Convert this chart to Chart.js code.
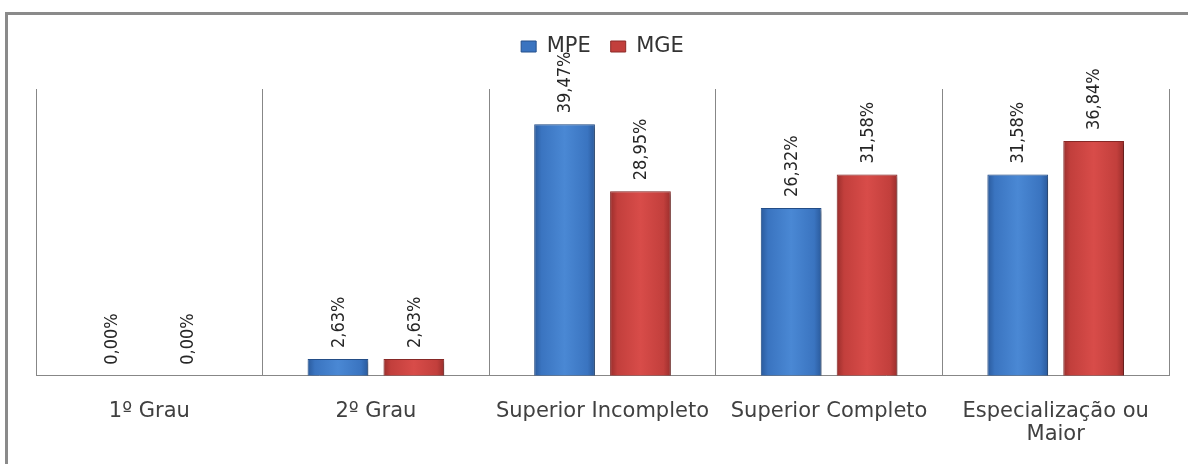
<!DOCTYPE html>
<html>
<head>
<meta charset="utf-8">
<script src="https://cdn.jsdelivr.net/npm/chart.js@4.4.1/dist/chart.umd.min.js"></script>
<style>
  html, body { margin: 0; padding: 0; background: #fff; overflow: hidden; }
  #wrap { position: relative; width: 1188px; height: 464px; }
  #frame {
    position: absolute; left: 5px; top: 12px; width: 1300px; height: 600px;
    border: 3px solid #8a8a8a; pointer-events: none;
  }
</style>
</head>
<body>
<div id="wrap">
  <canvas id="eduChart" width="1188" height="464"></canvas>
  <div id="frame"></div>
</div>
<script>
const categories = ['1º Grau', '2º Grau', 'Superior Incompleto', 'Superior Completo', ['Especialização ou', 'Maior']];
const seriesNames = ['MPE', 'MGE'];
const mpeValues = [0, 2.63, 39.47, 26.32, 31.58];
const mgeValues = [0, 2.63, 28.95, 31.58, 36.84];
const yMax = 45;

const CAT_PCT = 0.67;
const BAR_PCT = 0.8;

// horizontal shading for each bar, like the old 3d excel style
function barShade(dark, mid, light) {
    return function(context) {
        const chart = context.chart;
        const xs = chart.scales.x;
        if (!xs || !chart.chartArea || context.dataIndex === undefined) return mid;
        const slot = (xs.width / categories.length) * CAT_PCT / 2;
        const c = xs.getPixelForValue(context.dataIndex) + (context.datasetIndex === 0 ? -slot / 2 : slot / 2);
        const half = slot * BAR_PCT / 2;
        const g = chart.ctx.createLinearGradient(c - half, 0, c + half, 0);
        g.addColorStop(0, dark);
        g.addColorStop(0.12, mid);
        g.addColorStop(0.5, light);
        g.addColorStop(0.88, mid);
        g.addColorStop(1, dark);
        return g;
    };
}

const valueLabels = {
    id: 'valueLabels',
    afterDatasetsDraw(chart) {
        const ctx = chart.ctx;
        ctx.save();
        ctx.font = '18px "Liberation Sans Narrow", "DejaVu Sans Condensed", sans-serif';
        ctx.fillStyle = '#262626';
        ctx.textAlign = 'left';
        ctx.textBaseline = 'middle';
        chart.data.datasets.forEach((ds, i) => {
            chart.getDatasetMeta(i).data.forEach((bar, j) => {
                const txt = ds.data[j].toFixed(2).replace('.', ',') + '%';
                ctx.save();
                ctx.translate(bar.x + 1, bar.y - 11);
                ctx.rotate(-Math.PI / 2);
                ctx.fillText(txt, 0, 0);
                ctx.restore();
            });
        });
        ctx.restore();
    }
};

const barShadow = {
    id: 'barShadow',
    beforeDatasetsDraw(chart) {
        const ctx = chart.ctx;
        ctx.save();
        ctx.shadowColor = 'rgba(0,0,0,0.35)';
        ctx.shadowBlur = 4;
        ctx.shadowOffsetX = 2;
        ctx.shadowOffsetY = 2;
    },
    afterDatasetsDraw(chart) {
        chart.ctx.restore();
    }
};

const legendGap = {
    id: 'legendGap',
    beforeInit(chart) {
        const fit = chart.legend.fit;
        chart.legend.fit = function() {
            fit.bind(chart.legend)();
            this.height += 22;
        };
    }
};

new Chart(document.getElementById('eduChart'), {
    type: 'bar',
    data: {
        labels: categories,
        datasets: [{
            label: seriesNames[0],
            data: mpeValues,
            backgroundColor: barShade('#2a5a9c', '#3a74c0', '#4a88d4'),
            borderColor: '#24508c',
            borderWidth: 1,
            categoryPercentage: CAT_PCT,
            barPercentage: BAR_PCT
        }, {
            label: seriesNames[1],
            data: mgeValues,
            backgroundColor: barShade('#9a2e2c', '#c23f3c', '#d84c49'),
            borderColor: '#8c2a28',
            borderWidth: 1,
            categoryPercentage: CAT_PCT,
            barPercentage: BAR_PCT
        }]
    },
    options: {
        responsive: false,
        animation: false,
        layout: { padding: { left: 36, right: 19, top: 16, bottom: -6 } },
        plugins: {
            legend: {
                position: 'top',
                labels: {
                    boxWidth: 15,
                    boxHeight: 11,
                    padding: 20,
                    color: '#333',
                    font: { family: 'DejaVu Sans', size: 21 },
                    generateLabels(chart) {
                        const fills = ['#3a74c0', '#c23f3c'];
                        const edges = ['#24508c', '#8c2a28'];
                        return chart.data.datasets.map((ds, i) => ({
                            text: ds.label, fillStyle: fills[i], strokeStyle: edges[i],
                            lineWidth: 1, datasetIndex: i, fontColor: '#333'
                        }));
                    }
                }
            },
            tooltip: { enabled: false }
        },
        scales: {
            x: {
                grid: { display: true, color: '#878787', lineWidth: 1, drawTicks: false, offset: true },
                border: { display: true, color: '#878787' },
                ticks: {
                    padding: 24,
                    color: '#404040',
                    font: { family: 'DejaVu Sans', size: 21, lineHeight: 1.1 }
                }
            },
            y: {
                display: false,
                min: 0,
                max: yMax
            }
        }
    },
    plugins: [legendGap, barShadow, valueLabels]
});
</script>
</body>
</html>
